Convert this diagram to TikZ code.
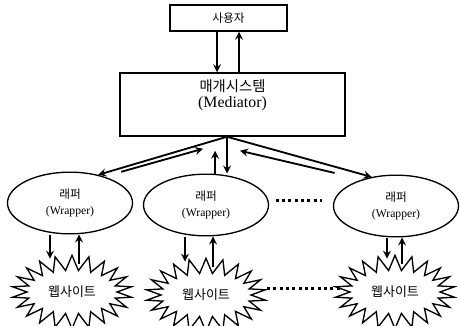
\documentclass[tikz,border=0pt]{standalone}
\usepackage{fontspec}
\setmainfont{Liberation Serif}
\newfontfamily\kr{Noto Sans CJK KR}
\usepackage{tikz}
\usetikzlibrary{positioning,calc,shapes.geometric,shapes.symbols}

\begin{document}
\begin{tikzpicture}[x=0.6pt,y=-0.6pt,
		box/.style={draw=black,line width=0.9pt,inner sep=0pt},
		wrap/.style={ellipse,draw=black,line width=0.8pt,minimum width=75pt,minimum height=37pt,inner sep=0pt,align=center,font=\fontsize{7}{9.6}\selectfont},
		site/.style={starburst,draw=black,line width=0.8pt,starburst points=22,starburst point height=9pt,random starburst=0,minimum width=72pt,minimum height=44pt,inner sep=0pt,font=\kr\fontsize{7.8}{9}\selectfont},
		arr/.style={-stealth,line width=1.1pt},
		dots/.style={line width=1.8pt,dash pattern=on 1.8pt off 2pt}]
		\useasboundingbox (0,0) rectangle (460,326);
		
		\node[box,minimum width=70pt,minimum height=15.6pt,font=\kr\fontsize{7}{8}\selectfont] (user) at (228.5,18) {사용자};
		\node[box,minimum width=135pt,minimum height=37.8pt] (med) at (232.5,104.5) {};
		\node[align=center,font=\fontsize{9.5}{9.6}\selectfont] (medlbl) at (232.5,95) {{\kr\fontsize{8.6}{9.6}\selectfont 매개시스템}\\(Mediator)};
		\coordinate (hub) at ([xshift=-3.3pt]med.south);
		
		\node[wrap] (wl) at (70,203) {{\kr 래퍼}\\(Wrapper)};
		\node[wrap] (wm) at (206,205) {{\kr 래퍼}\\(Wrapper)};
		\node[wrap] (wr) at (396,206) {{\kr 래퍼}\\(Wrapper)};
		
		\node[site] (sl) at (72,292) {웹사이트};
		\node[site] (sm) at (206,295) {웹사이트};
		\node[site] (sr) at (395,292) {웹사이트};
		
		\draw[arr] ([xshift=-6.9pt]user.south) -- ([xshift=-6.9pt]user.south |- med.north);
		\draw[arr] ([xshift=6.3pt]user.south |- med.north) -- ([xshift=6.3pt]user.south);
		
		\draw[arr] (hub) -- (wl.45);
		\draw[arr] ([shift={(13.8pt,1.8pt)}]wl.45) -- ([shift={(-14.4pt,-7.2pt)}]hub);
		\draw[arr] (hub) -- (hub |- wm.north);
		\draw[arr] ([xshift=-7.2pt]hub |- wm.north) -- ([shift={(-7.2pt,-8.4pt)}]hub);
		\draw[arr] (hub) -- (wr.130);
		\draw[arr] ([shift={(-22.2pt,2.4pt)}]wr.130) -- ([shift={(7.8pt,-8.4pt)}]hub);
		
		\draw[arr] ([xshift=-12pt]wl.south) -- ([shift={(-12pt,-3pt)}]wl.south |- sl.north);
		\draw[arr] ([shift={(5.4pt,-6pt)}]wl.south |- sl.north) -- ([xshift=5.4pt]wl.south);
		\draw[arr] ([xshift=-12.6pt]wm.south) -- ([shift={(-12.6pt,-3pt)}]wm.south |- sm.north);
		\draw[arr] ([shift={(4.2pt,-6pt)}]wm.south |- sm.north) -- ([xshift=4.2pt]wm.south);
		\draw[arr] ([xshift=-5.4pt]wr.south) -- ([shift={(-5.4pt,-3pt)}]wr.south |- sr.north);
		\draw[arr] ([shift={(3.6pt,-6pt)}]wr.south |- sr.north) -- ([xshift=3.6pt]wr.south);
		
		\draw[dots] ([shift={(3.9pt,3pt)}]wm.east) -- ([shift={(-6.3pt,3pt)}]wm.east -| wr.west);
		\draw[dots] ([shift={(8.4pt,4.2pt)}]sm.east) -- ([shift={(-4.8pt,4.2pt)}]sm.east -| sr.west);
	\end{tikzpicture}
\end{document}
